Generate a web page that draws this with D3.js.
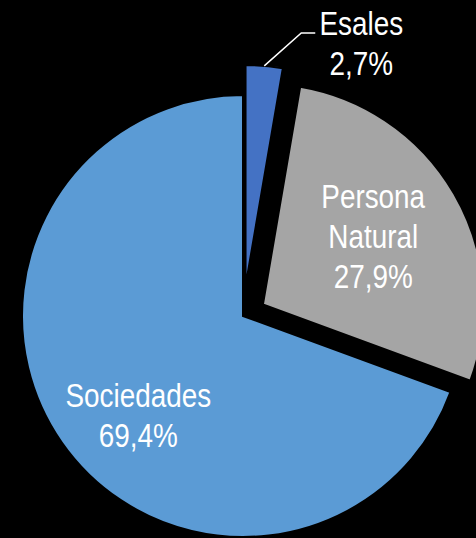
<!DOCTYPE html>
<html>
<head>
<meta charset="utf-8">
<script src="https://cdn.jsdelivr.net/npm/d3@7"></script>
<style>
  html, body { margin: 0; padding: 0; background: #000; }
  svg { display: block; }
  text { font-family: "Liberation Sans", Arial, sans-serif; fill: #fff; }
</style>
</head>
<body>
<svg></svg>
<script>
// data
var categories = ["Esales", "Persona Natural", "Sociedades"];
var values = [2.7, 27.9, 69.4];
var labelText = ["2,7%", "27,9%", "69,4%"];
var colors = ["#4472C4", "#A5A5A5", "#5B9BD5"];

var w = 476, h = 538;
var cx = 243, cy = 316, r = 221;
var explode = [30, 23, 0];
var fontsize = 34, lineH = 40, narrow = 0.82;

var svg = d3.select("svg").attr("width", w).attr("height", h);
svg.append("rect").attr("width", w).attr("height", h).attr("fill", "#000");

var g = svg.append("g").attr("transform", "translate(" + cx + "," + cy + ")");

var pie = d3.pie().sort(null).value(d => d);
var arcs = pie(values);
var arc = d3.arc().innerRadius(0).outerRadius(r);

function offset(d, i) {
    var a = (d.startAngle + d.endAngle) / 2;
    return [Math.sin(a) * explode[i], -Math.cos(a) * explode[i]];
}

var slices = g.selectAll(".slice")
    .data(arcs)
    .enter().append("g")
    .attr("class", "slice")
    .attr("transform", (d, i) => { var o = offset(d, i); return "translate(" + o[0] + "," + o[1] + ")"; });

slices.append("path")
    .attr("d", arc)
    .attr("fill", (d, i) => colors[i])
    .attr("stroke", "#000")
    .attr("stroke-width", 2);

// multi-line label, squeezed horizontally like a narrow font
function label(x, y, lines) {
    var t = g.append("g")
        .attr("transform", "translate(" + x + "," + y + ") scale(" + narrow + ",1)")
        .append("text")
        .attr("text-anchor", "middle")
        .style("font-size", fontsize + "px");
    lines.forEach((l, k) => {
        t.append("tspan")
            .attr("x", 0)
            .attr("y", (k - (lines.length - 1) / 2) * lineH + fontsize * 0.35)
            .text(l);
    });
}

// labels inside big slices
var labelR = [0, 130, 144];
var labelShift = [0, -1.9, -8.4]; // degrees
arcs.forEach((d, i) => {
    if (i == 0) return;
    var a = (d.startAngle + d.endAngle) / 2 + labelShift[i] * Math.PI / 180;
    var o = offset(d, i);
    label(o[0] + Math.sin(a) * labelR[i], o[1] - Math.cos(a) * labelR[i],
        categories[i].split(" ").concat([labelText[i]]));
});

// outside label for the small slice, with leader line
var d0 = arcs[0];
var o0 = offset(d0, 0);
var a0 = (d0.startAngle + d0.endAngle) / 2;
var p1 = [o0[0] + Math.sin(a0) * r, o0[1] - Math.cos(a0) * r];
var p2 = [p1[0] + 37, p1[1] - 33];
var p3 = [p2[0] + 14, p2[1]];
g.append("path")
    .attr("d", "M" + p1 + "L" + p2 + "L" + p3)
    .attr("fill", "none")
    .attr("stroke", "#fff")
    .attr("stroke-width", 1.5);
label(p3[0] + 46, p3[1] + 2 + lineH / 2 - fontsize * 0.35, [categories[0], labelText[0]]);
</script>
</body>
</html>
